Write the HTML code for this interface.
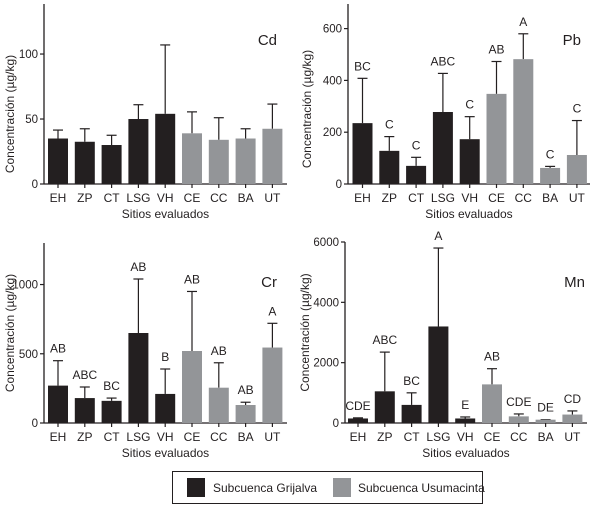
<!DOCTYPE html>
<html><head><meta charset="utf-8">
<style>
body{margin:0;background:#fff;width:601px;height:509px;overflow:hidden;font-family:"Liberation Sans",Arial,sans-serif;}
svg text{font-family:"Liberation Sans",Arial,sans-serif;fill:#231f20;}
</style></head>
<body>
<svg id="chart" width="601" height="509" viewBox="0 0 601 509" xmlns="http://www.w3.org/2000/svg">
<g id="legend">
<rect x="172.5" y="471.5" width="310" height="32" fill="none" stroke="#231f20" stroke-width="1"/>
<rect x="187" y="478" width="18" height="19" fill="#231f20"/>
<text x="213" y="492" font-size="12">Subcuenca Grijalva</text>
<rect x="333" y="478" width="18" height="19" fill="#939598"/>
<text x="358" y="492" font-size="12">Subcuenca Usumacinta</text>
</g>
</svg>
<script>
const categories = ["EH","ZP","CT","LSG","VH","CE","CC","BA","UT"];
const groups = ["G","G","G","G","G","U","U","U","U"];
const cdMeans = [35,32.5,30,50,54,39,34,35,42.5];
const cdUpper = [41.5,42.5,37.5,61,107,55.5,51,42.5,61.5];
const cdTicks = [0,50,100];
const cdLetters = ["","","","","","","","",""];
const pbMeans = [235,128,70,278,173,348,482,62,112];
const pbUpper = [408,183,103,427,260,473,580,68,245];
const pbTicks = [0,200,400,600];
const pbLetters = ["BC","C","C","ABC","C","AB","A","C","C"];
const crMeans = [270,180,160,650,210,520,255,130,545];
const crUpper = [450,260,180,1040,390,950,435,150,720];
const crTicks = [0,500,1000];
const crLetters = ["AB","ABC","BC","AB","B","AB","AB","AB","A"];
const mnMeans = [150,1050,600,3200,150,1280,220,110,280];
const mnUpper = [170,2350,1000,5800,200,1800,300,110,400];
const mnTicks = [0,2000,4000,6000];
const mnLetters = ["CDE","ABC","BC","A","E","AB","CDE","DE","CD"];

const NS="http://www.w3.org/2000/svg";
const svg=document.getElementById('chart');
function mk(tag,attrs,parent){const e=document.createElementNS(NS,tag);for(const k in attrs)e.setAttribute(k,attrs[k]);(parent||svg).appendChild(e);return e;}

function panel(cfg){
  const g=mk('g',{});
  
  
  const yS=v=>cfg.y0-(v/cfg.max)*(cfg.y0-cfg.yTop);
  const xS=i=>cfg.x0+cfg.first+i*cfg.step;
  const ya=mk('line',{x1:cfg.x0,y1:cfg.yTop,x2:cfg.x0,y2:cfg.y0,stroke:'#231f20','stroke-width':1.3},g);
  
  
  const xa=mk('line',{x1:cfg.x0,y1:cfg.y0,x2:cfg.x1,y2:cfg.y0,stroke:'#231f20','stroke-width':1.3},g);
  
  
  cfg.ticks.forEach(t=>{
    const y=yS(t);
    mk('line',{x1:cfg.x0-4,y1:y,x2:cfg.x0,y2:y,stroke:'#231f20','stroke-width':1.2},g);
    const tl=mk('text',{x:cfg.x0-6,y:y+4,'font-size':11.5,'text-anchor':'end'},g);
    tl.textContent=t;
    
    
  });
  categories.forEach((c,i)=>{
    const cx=xS(i), bw=20;
    const m=cfg.means[i], u=cfg.upper[i];
    const col=groups[i]==='G'?'#231f20':'#939598';
    const ey=yS(u);
    mk('line',{x1:cx,y1:ey,x2:cx,y2:yS(m),stroke:'#231f20','stroke-width':1.2},g);
    mk('line',{x1:cx-5,y1:ey,x2:cx+5,y2:ey,stroke:'#231f20','stroke-width':1.2},g);
    const r=mk('rect',{x:cx-bw/2,y:yS(m),width:bw,height:cfg.y0-yS(m),fill:col},g);
    
    
    mk('line',{x1:cx,y1:cfg.y0,x2:cx,y2:cfg.y0+4,stroke:'#231f20','stroke-width':1.2},g);
    const xl=mk('text',{x:cx,y:cfg.y0+18,'font-size':12,'text-anchor':'middle'},g);
    xl.textContent=c;
    
    
    if(cfg.letters[i]){
      const lt=mk('text',{x:cx,y:ey-8,'font-size':12,'text-anchor':'middle'},g);
      lt.textContent=cfg.letters[i];
      
      
    }
  });
  const xt=mk('text',{x:(cfg.x0+cfg.x1)/2,y:cfg.y0+34,'font-size':12,'text-anchor':'middle'},g);
  xt.textContent='Sitios evaluados';
  
  
  const ycy=(cfg.yTop+cfg.y0)/2+cfg.yoff;
  const yt=mk('text',{x:cfg.ylx,y:ycy,'font-size':12,'text-anchor':'middle',transform:`rotate(-90 ${cfg.ylx} ${ycy})`},g);
  yt.textContent='Concentración (µg/kg)';
  
  
  const pt=mk('text',{x:cfg.tx,y:cfg.ty,'font-size':15,'text-anchor':'end'},g);
  pt.textContent=cfg.title;
  
  
}
panel({name:'cd',title:'Cd',x0:44,x1:287,y0:184,yTop:4,max:138.5,first:14,step:26.8,ticks:cdTicks,means:cdMeans,upper:cdUpper,letters:cdLetters,ylx:14,yoff:20,tx:277,ty:45});
panel({name:'pb',title:'Pb',x0:348,x1:590,y0:184,yTop:4,max:695,first:14.5,step:26.8,ticks:pbTicks,means:pbMeans,upper:pbUpper,letters:pbLetters,ylx:311,yoff:15,tx:581,ty:45});
panel({name:'cr',title:'Cr',x0:44,x1:287,y0:423,yTop:243,max:1300,first:14,step:26.8,ticks:crTicks,means:crMeans,upper:crUpper,letters:crLetters,ylx:14,yoff:0,tx:277,ty:287});
panel({name:'mn',title:'Mn',x0:345,x1:587,y0:423,yTop:242,max:6000,first:13,step:26.8,ticks:mnTicks,means:mnMeans,upper:mnUpper,letters:mnLetters,ylx:309,yoff:0,tx:585,ty:287});
</script>
</body></html>
